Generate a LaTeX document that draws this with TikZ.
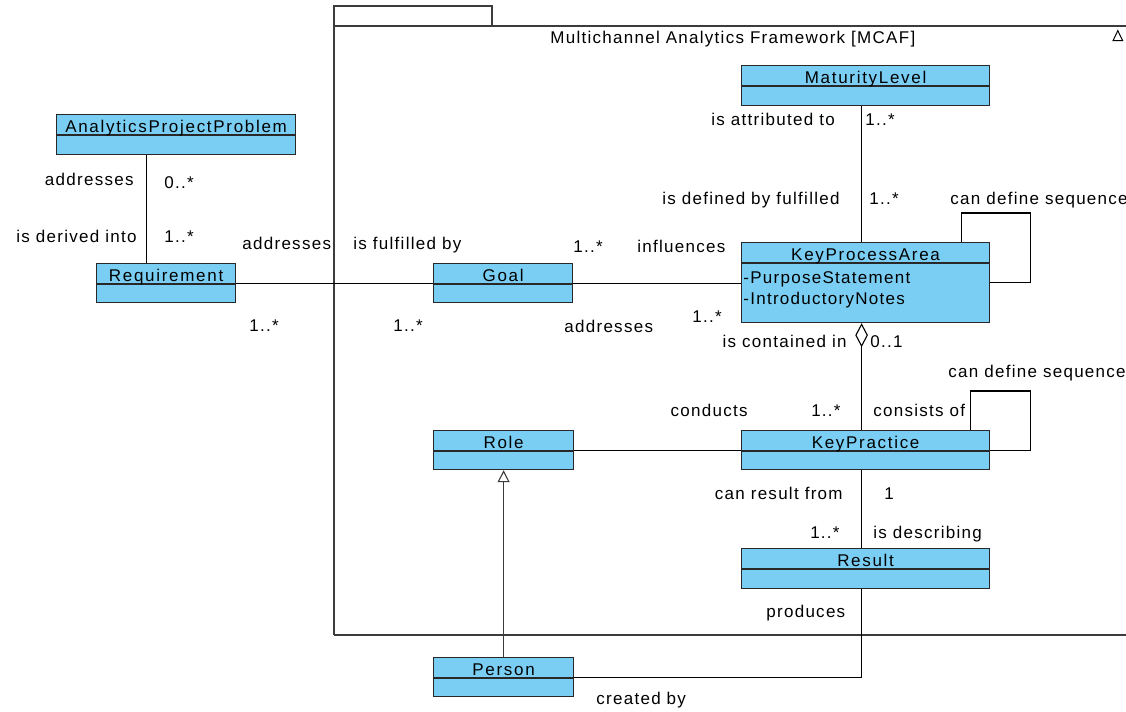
\documentclass[tikz,border=0pt]{standalone}
\usepackage{fontspec}
\setmainfont{Liberation Sans}[LetterSpace=7.5]
\newfontfamily\clsfont{Liberation Sans}[LetterSpace=10]
\usetikzlibrary{arrows.meta}

\definecolor{clsfill}{RGB}{122,206,243}
\definecolor{clsline}{RGB}{40,40,40}
\definecolor{framegray}{RGB}{60,60,60}

\begin{document}
\begin{tikzpicture}[x=0.5pt, y=-0.5pt,
    cls/.style={draw=clsline, fill=clsfill, inner sep=0, anchor=north west, line width=0.6pt},
    clsname/.style={inner sep=0, anchor=base, font=\clsfont\fontsize{8.5}{10}\selectfont},
    attr/.style={inner sep=0, anchor=base west, font=\fontsize{8.5}{10}\selectfont},
    lbl/.style={inner sep=0, font=\fontsize{8.5}{10}\selectfont, text height=6.1pt, text depth=1.7pt},
    assoc/.style={draw=black, line width=0.55pt}]

  \clip (0,0) rectangle (1126,712);

  % Class box: name, position, width, height, title
  \def\umlclass#1#2#3#4#5{
    \node[cls, minimum width=#3, minimum height=#4] (#1) at #2 {};
    \draw[clsline, line width=0.6pt] ([yshift=-10.5pt]#1.north west) -- ([yshift=-10.5pt]#1.north east);
    \node[clsname] (#1-name) at ([yshift=-9.15pt]#1.north) {#5};
  }

  % Package frame
  \draw[framegray, line width=0.6pt] (334,635) -- (334,6) -- (492,6) -- (492,26);
  \draw[framegray, line width=0.6pt] (334,26) -- (1140,26);
  \draw[framegray, line width=0.6pt] (334,635) -- (1140,635);
  \node[lbl, anchor=west] (title) at (550,39) {Multichannel Analytics Framework [MCAF]};
  \draw[line width=0.5pt] (1113,40.7) -- (1122.7,40.7) -- (1117.8,30.7) -- cycle;

  % Classes
  \umlclass{app}{(56,114)}{119.5pt}{20pt}{AnalyticsProjectProblem}
  \umlclass{req}{(96,263)}{69.5pt}{19.5pt}{Requirement}
  \umlclass{goal}{(433,263)}{69.5pt}{19.5pt}{Goal}
  \umlclass{ml}{(741,65)}{124pt}{20pt}{MaturityLevel}
  \umlclass{kpa}{(741,242)}{124pt}{40pt}{KeyProcessArea}
  \umlclass{kp}{(741,430)}{124pt}{19.5pt}{KeyPractice}
  \umlclass{result}{(741,548)}{124pt}{20pt}{Result}
  \umlclass{role}{(433,430)}{70pt}{19.5pt}{Role}
  \umlclass{person}{(433,657)}{70pt}{19.5pt}{Person}

  % Attributes
  \node[attr] (purpose) at ([xshift=1pt, yshift=-20.5pt]kpa.north west) {-PurposeStatement};
  \node[attr] (notes) at ([xshift=1pt, yshift=-31pt]kpa.north west) {-IntroductoryNotes};

  % Associations
  \draw[assoc] ([xshift=-9.75pt]req.north) -- ([xshift=-9.75pt]req.north |- app.south);
  \draw[assoc] (req.east) -- (goal.west);
  \draw[assoc] (goal.east) -- (goal.east -| kpa.west);
  \draw[assoc] ([xshift=-2pt]kpa.north) -- ([xshift=-2pt]kpa.north |- ml.south);
  \draw[assoc] ([xshift=-14.5pt]kpa.north east) -- ++(0,-29) -| ([xshift=20pt]kpa.east) -- (kpa.east);
  \draw[assoc, {Diamond[open, length=12pt, width=6.3pt]}-] ([xshift=-2pt]kpa.south) -- ([xshift=-2pt]kpa.south |- kp.north);
  \draw[assoc] ([xshift=-10pt]kp.north east) -- ++(0,-39) -| ([xshift=20pt]kp.east) -- (kp.east);
  \draw[assoc] (role.east) -- (role.east -| kp.west);
  \draw[assoc] ([xshift=-2pt]kp.south) -- ([xshift=-2pt]kp.south |- result.north);
  \draw[assoc] ([xshift=-2pt]result.south) |- (person.east);
  \draw[assoc, draw=framegray, -{Triangle[open, length=6pt, width=6pt]}] (person.north) -- (role.south);

  % Role and multiplicity labels
  \node[lbl, anchor=east] (l-addr1) at (134,181) {addresses};
  \node[lbl, anchor=west] (m-app) at (164,184) {0..*};
  \node[lbl, anchor=east] (l-deriv) at (137,238) {is derived into};
  \node[lbl, anchor=west] (m-req1) at (164,238) {1..*};
  \node[lbl, anchor=west] (l-addr2) at (242,245) {addresses};
  \node[lbl, anchor=west] (m-req2) at (249,327) {1..*};
  \node[lbl, anchor=west] (l-fulf) at (353,245) {is fulfilled by};
  \node[lbl, anchor=west] (m-goal1) at (393,327) {1..*};
  \node[lbl, anchor=west] (m-goal2) at (573,248) {1..*};
  \node[lbl, anchor=west] (l-infl) at (637,248) {influences};
  \node[lbl, anchor=west] (l-addr3) at (564,328) {addresses};
  \node[lbl, anchor=west] (m-kpa1) at (692,318) {1..*};
  \node[lbl, anchor=west] (l-attr) at (711,121) {is attributed to};
  \node[lbl, anchor=west] (m-ml) at (865,121) {1..*};
  \node[lbl, anchor=east] (l-def) at (840,200) {is defined by fulfilled};
  \node[lbl, anchor=west] (m-kpa2) at (869,200) {1..*};
  \node[lbl, anchor=west] (l-seq1) at (950,200) {can define sequence};
  \node[lbl, anchor=east] (l-cont) at (847,343) {is contained in};
  \node[lbl, anchor=west] (m-kpa3) at (870,343) {0..1};
  \node[lbl, anchor=west] (l-seq2) at (948,373) {can define sequence};
  \node[lbl, anchor=east] (l-cond) at (748,412) {conducts};
  \node[lbl, anchor=east] (m-kp1) at (841,412) {1..*};
  \node[lbl, anchor=west] (l-cons) at (873,412) {consists of};
  \node[lbl, anchor=east] (l-res) at (843,495) {can result from};
  \node[lbl, anchor=west] (m-kp2) at (884,495) {1};
  \node[lbl, anchor=east] (m-res) at (840,534) {1..*};
  \node[lbl, anchor=west] (l-desc) at (873,534) {is describing};
  \node[lbl, anchor=west] (l-prod) at (766,613) {produces};
  \node[lbl, anchor=west] (l-crea) at (596,700) {created by};

\end{tikzpicture}
\end{document}
